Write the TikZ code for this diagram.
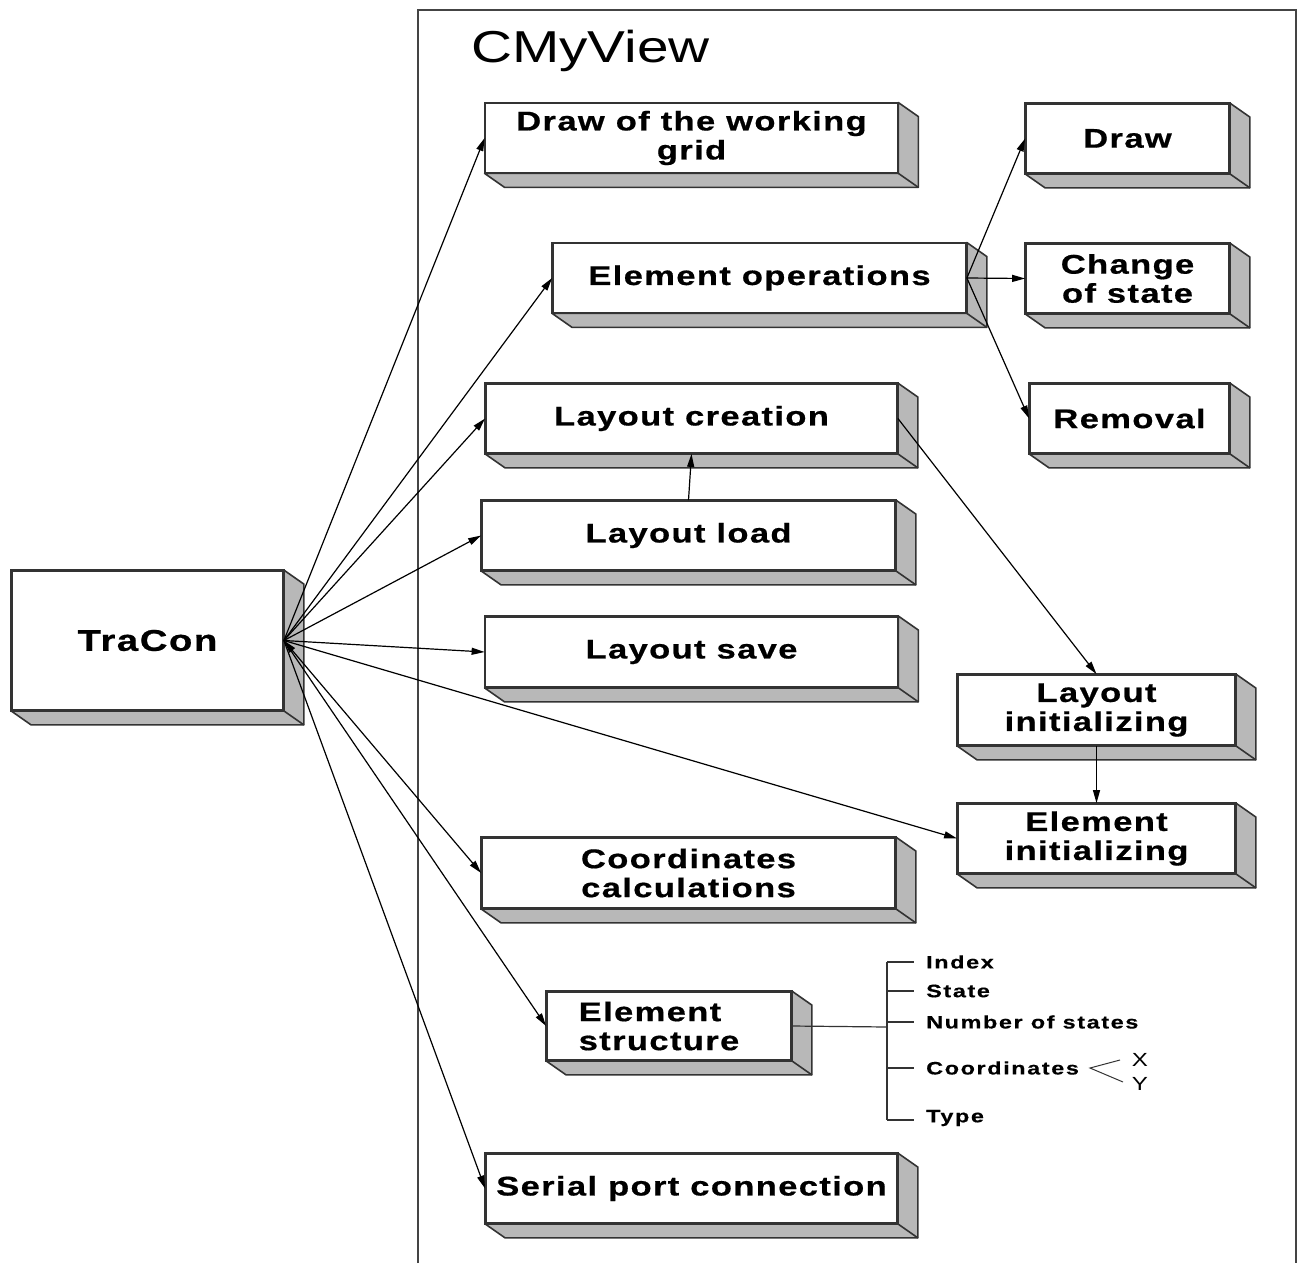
\documentclass[tikz,border=0pt]{standalone}
\usepackage{fontspec}
\usetikzlibrary{arrows.meta}
\newfontfamily\bxf{Liberation Sans Bold}[FakeStretch=1.28,LetterSpace=5,FakeBold=0.6]
\newfontfamily\subf{Liberation Sans Bold}[FakeStretch=1.3,LetterSpace=9,FakeBold=0.4]
\newfontfamily\ttlf{Liberation Sans}[FakeStretch=1.27]
\definecolor{boxline}{HTML}{333333}
\definecolor{sidegray}{HTML}{B8B8B8}
\definecolor{framegray}{HTML}{444444}
\begin{document}
\begin{tikzpicture}[x=1pt,y=-1pt,
  box/.style={draw=boxline,line width=1.8pt,fill=white,inner sep=0pt,align=center,
    font=\bxf\fontsize{27}{29}\selectfont},
  face/.style={draw=boxline,line width=1.6pt,fill=sidegray,line join=round},
  conn/.style={line width=1.2pt,-{Triangle[length=13pt,width=7pt]}},
  tree/.style={line width=1.2pt,draw=boxline},
  sub/.style={anchor=west,inner sep=0pt,font=\subf\fontsize{18}{20}\selectfont},
  xy/.style={inner sep=0pt,font=\ttlf\fontsize{19}{22}\selectfont}]
\useasboundingbox (0,0) rectangle (1300,1263);
% frame
\draw[framegray,line width=1.5pt] (418,1263) -- (418,10) -- (1296,10) -- (1296,1263);
\node[anchor=base west,inner sep=0pt,font=\ttlf\fontsize{44.7}{50}\selectfont] (title) at (471,63) {CMyView};
% boxes
\node[box,minimum width=271pt,minimum height=139pt,font=\bxf\fontsize{30}{34}\selectfont] (tracon) at (147.5,640.5) {TraCon};
\node[box,minimum width=412pt,minimum height=69pt] (grid) at (691.5,138) {Draw of the working\\grid};
\node[box,minimum width=413pt,minimum height=69pt] (elop) at (759.5,278) {Element operations};
\node[box,minimum width=411pt,minimum height=69pt] (lcreat) at (691.5,418.5) {Layout creation};
\node[box,minimum width=413pt,minimum height=69pt] (lload) at (688.5,535.5) {Layout load};
\node[box,minimum width=412pt,minimum height=70pt] (lsave) at (691.5,652) {Layout save};
\node[box,minimum width=413pt,minimum height=70pt] (coord) at (688.5,873) {Coordinates\\calculations};
\node[box,minimum width=244pt,minimum height=68pt,align=left] (estruct) at (669,1026) {Element\\structure\hspace*{20pt}};
\node[box,minimum width=411pt,minimum height=69pt] (serial) at (691.5,1188.5) {Serial port connection};
\node[box,minimum width=203pt,minimum height=69pt] (draw) at (1127.5,138.5) {Draw};
\node[box,minimum width=203pt,minimum height=69pt] (chstate) at (1127.5,278.5) {Change\\of state};
\node[box,minimum width=199pt,minimum height=69pt] (removal) at (1129.5,418.5) {Removal};
\node[box,minimum width=277pt,minimum height=70pt] (linit) at (1096.5,710) {Layout\\initializing};
\node[box,minimum width=277pt,minimum height=69pt] (einit) at (1096.5,838.5) {Element\\initializing};
% 3D faces
\foreach \n in {tracon,grid,elop,lcreat,lload,lsave,coord,estruct,serial,draw,chstate,removal,linit,einit}{
  \filldraw[face] (\n.north east) -- ++(20,14) -- ([shift={(20,14)}]\n.south east)
     -- ([shift={(20,14)}]\n.south west) -- (\n.south west) -- (\n.south east) -- cycle;
  \draw[face,fill=none] (\n.south east) -- ++(20,14);
  \draw[draw=boxline,line width=1.8pt] (\n.north west) rectangle (\n.south east);
}
% connectors from TraCon
\draw[conn] (tracon.east) -- (grid.west);
\draw[conn] (tracon.east) -- (elop.west);
\draw[conn] (tracon.east) -- (lcreat.west);
\draw[conn] (tracon.east) -- (lload.west);
\draw[conn] (tracon.east) -- (lsave.west);
\draw[conn] (tracon.east) -- (einit.west);
\draw[conn,{Triangle[length=13pt,width=7pt]}-{Triangle[length=13pt,width=7pt]}] (tracon.east) -- (coord.west);
\draw[conn] (tracon.east) -- (estruct.west);
\draw[conn] (tracon.east) -- (serial.west);
% other connectors
\draw[conn] (elop.east) -- (draw.west);
\draw[conn] (elop.east) -- (chstate.west);
\draw[conn] (elop.east) -- (removal.west);
\draw[conn] (lload.north) -- (lcreat.south);
\draw[conn] (lcreat.east) -- (linit.north);
\draw[conn] (linit.south) -- (einit.north);
% element structure tree
\coordinate (tj) at (887,1027);
\coordinate (ttop) at (887,962);
\coordinate (tbot) at (887,1120);
\draw[tree] (estruct.east) -- (tj);
\draw[tree] (ttop) -- (tbot);
\coordinate (b1) at (914,962);
\coordinate (b2) at (914,991);
\coordinate (b3) at (914,1022);
\coordinate (b4) at (914,1068);
\coordinate (b5) at (914,1120);
\draw[tree] (ttop) -- (b1);
\draw[tree] (887,991) -- (b2);
\draw[tree] (887,1022) -- (b3);
\draw[tree] (887,1068) -- (b4);
\draw[tree] (tbot) -- (b5);
\node[sub] (s1) at (926,962) {Index};
\node[sub] (s2) at (926,991) {State};
\node[sub] (s3) at (926,1022) {Number of states};
\node[sub] (s4) at (926,1068) {Coordinates};
\node[sub] (s5) at (926,1118) {Type};
\coordinate (apex) at (1090,1068);
\coordinate (up) at (1120,1060);
\coordinate (lo) at (1123,1082);
\draw[tree,line width=1pt] (up) -- (apex) -- (lo);
\node[xy] (nx) at (1140,1060) {X};
\node[xy] (ny) at (1140,1084) {Y};
\end{tikzpicture}
\end{document}
